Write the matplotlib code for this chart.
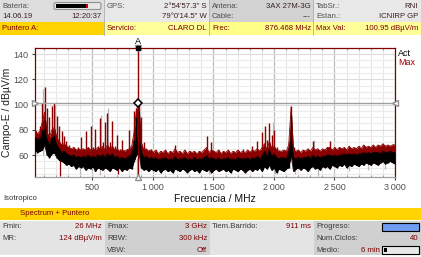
import numpy as np
import matplotlib
matplotlib.use('Agg')
import matplotlib.pyplot as plt
from matplotlib.patches import Rectangle, FancyBboxPatch
from matplotlib.ticker import MultipleLocator

plt.rcParams['font.family'] = ['Liberation Sans', 'DejaVu Sans']

# ---------------- data ----------------
FREQ_START, FREQ_STOP = 26, 3000

# Max hold trace (upper envelope, dBuV/m)
max_trace = [80, 77, 83, 101, 114, 97, 90, 99, 101, 91,
             83, 79, 75, 71, 68, 65, 66, 64, 66, 74,
             65, 79, 66, 83, 66, 81, 67, 89, 70, 86,
             93, 70, 87, 67, 76, 65, 72, 64, 65, 80,
             67, 95, 97, 101, 90, 70, 65, 64, 65, 62,
             64, 61, 63, 62, 64, 61, 63, 62, 68, 62,
             63, 61, 64, 61, 63, 62, 63, 61, 63, 62,
             64, 75, 62, 70, 63, 62, 64, 61, 63, 62,
             64, 61, 63, 62, 64, 62, 65, 62, 64, 63,
             67, 63, 71, 64, 78, 83, 72, 85, 76, 80,
             66, 64, 63, 64, 63, 70, 99, 66, 63, 64,
             62, 64, 63, 65, 63, 71, 64, 65, 63, 65,
             64, 66, 71, 64, 66, 64, 66, 65, 66, 64,
             67, 65, 66, 65, 67, 65, 68, 66, 67, 66,
             68, 66, 68, 67, 69, 67, 68, 67, 69, 68]

# Actual trace: upper and lower edge of the noise band
act_top = [74, 72, 73, 80, 88, 72, 68, 74, 76, 68,
           65, 62, 63, 61, 60, 59, 60, 58, 59, 58,
           59, 58, 60, 58, 59, 58, 60, 59, 61, 58,
           62, 59, 61, 58, 59, 57, 58, 57, 58, 59,
           61, 72, 90, 95, 64, 58, 59, 57, 58, 57,
           58, 56, 57, 57, 58, 56, 57, 56, 59, 56,
           57, 57, 58, 56, 57, 56, 58, 56, 57, 57,
           58, 60, 57, 58, 57, 56, 58, 56, 57, 57,
           58, 56, 57, 56, 58, 57, 57, 57, 58, 56,
           58, 57, 59, 57, 60, 63, 58, 65, 59, 61,
           58, 57, 58, 58, 57, 62, 92, 58, 57, 58,
           57, 58, 58, 59, 57, 60, 58, 59, 58, 59,
           59, 60, 60, 59, 60, 59, 60, 60, 61, 60,
           61, 60, 61, 60, 61, 61, 62, 61, 62, 61,
           62, 62, 62, 61, 63, 62, 62, 63, 62, 62]

act_low = [64, 62, 63, 64, 68, 60, 58, 61, 62, 58,
           56, 55, 54, 52, 53, 51, 52, 49, 51, 50,
           51, 48, 50, 49, 51, 47, 50, 49, 48, 50,
           49, 47, 50, 49, 48, 50, 47, 49, 48, 50,
           49, 55, 60, 62, 50, 48, 49, 47, 49, 48,
           47, 49, 46, 48, 49, 47, 48, 46, 49, 48,
           47, 49, 48, 46, 48, 49, 47, 48, 46, 49,
           48, 47, 49, 46, 48, 49, 47, 48, 49, 47,
           48, 46, 49, 48, 47, 49, 48, 46, 48, 49,
           47, 49, 48, 50, 47, 51, 49, 52, 48, 50,
           46, 49, 48, 47, 49, 50, 60, 47, 49, 50,
           48, 50, 49, 47, 50, 51, 49, 50, 48, 51,
           50, 51, 49, 52, 51, 50, 52, 51, 53, 50,
           52, 51, 53, 52, 51, 53, 52, 54, 53, 52,
           54, 53, 52, 54, 55, 53, 54, 55, 54, 53]

gray_peak_freq = [96, 192, 568, 630, 884, 1500, 1990, 2330, 2465]
gray_peak_level = [112, 100, 92, 97, 98, 75, 86, 72, 71]
gray_dip_freq = [130, 400, 560, 870, 1460, 2010, 2170, 2360, 2620, 2780, 2920]
gray_dip_level = [58, 45, 44, 44, 45, 45, 45, 43, 47, 48, 49]
red_dip_freq = [234, 715]
red_dip_level = [43, 45]

marker_freq = 876.468
marker_level = 100.95

y_ticks = [60, 80, 100, 120, 140]
x_ticks = [500, 1000, 1500, 2000, 2500, 3000]
x_tick_labels = ['500', '1\u2009000', '1\u2009500', '2\u2009000', '2\u2009500', '3\u2009000']

header_rows = [
    [('Bateria:', None), ('GPS:', '2°54\'57.3" S'), ('Antena:', '3AX 27M-3G'), ('TabSr.:', 'RNI')],
    [('14.06.19', '12:20:37'), ('', '79°0\'14.5" W'), ('Cable:', '---'), ('Estan.:', 'ICNIRP GP')],
    [('Puntero A:', None), ('Servicio:', 'CLARO DL'), ('Frec:', '876.468 MHz'), ('Max Val:', '100.95 dBµV/m')],
]
footer_rows = [
    [('Fmin:', '26 MHz'), ('Fmax:', '3 GHz'), ('Tiem.Barrido:', '911 ms'), ('Progreso:', None)],
    [('MR:', '124 dBµV/m'), ('RBW:', '300 kHz'), ('', ''), ('Num.Ciclos:', '40')],
    [('', ''), ('VBW:', 'Off'), ('', ''), ('Medio:', '6 min')],
]

freqs = np.linspace(FREQ_START, FREQ_STOP, len(max_trace))
max_arr = np.array(max_trace, dtype=float)
top_arr = np.array(act_top, dtype=float)
low_arr = np.array(act_low, dtype=float)

# ---------------- figure ----------------
W, H = 421, 257
fig = plt.figure(figsize=(W / 100, H / 100), dpi=100)
fig.patch.set_facecolor('white')

ov = fig.add_axes([0, 0, 1, 1], zorder=0)
ov.set_xlim(0, W)
ov.set_ylim(H, 0)
ov.axis('off')

DARK = '#7a0000'
LBL = '#505050'
FS = 5.6

col_x = [0, 105, 210, 314, 421]
hdr_bg = ['#dedede', '#e8e8e8', '#d2d2d2', '#e8e8e8']
for c in range(4):
    ov.add_patch(Rectangle((col_x[c], 0), col_x[c + 1] - col_x[c], 22, color=hdr_bg[c], lw=0))
row3_bg = ['#ffd400', '#ffff99', '#ffff88', '#ffff99']
for c in range(4):
    ov.add_patch(Rectangle((col_x[c], 22), col_x[c + 1] - col_x[c], 12.5, color=row3_bg[c], lw=0))
for c in range(1, 4):
    ov.plot([col_x[c] - 1, col_x[c] - 1], [0, 34.5], color='#b0b0b0', lw=0.6)

hdr_y = [6, 16.5, 28.5]
for r, row in enumerate(header_rows):
    for c, (lab, val) in enumerate(row):
        colr_l = DARK if r == 2 else LBL
        colr_v = DARK if r == 2 else '#3a2020'
        if lab:
            ov.text(col_x[c] + 2, hdr_y[r], lab, fontsize=FS,
                    color=colr_l if not (r == 1 and c == 0) else '#3a2020',
                    va='center', ha='left')
        if val:
            ov.text(col_x[c + 1] - 3, hdr_y[r], val, fontsize=FS, color=colr_v, va='center', ha='right')

# battery icon
ov.add_patch(FancyBboxPatch((54, 2.5), 47, 7, boxstyle='round,pad=0,rounding_size=2',
                            fc='#e6e6e6', ec='#909090', lw=0.8))
ov.add_patch(Rectangle((56, 4), 30, 4, color='black', lw=0))
ov.add_patch(Rectangle((86, 4), 1.5, 4, color='#cc0000', lw=0))

# footer
ov.text(3, 199, 'Isotropico', fontsize=FS, color='#333333', va='center', ha='left')
ov.add_patch(Rectangle((0, 207.5), W, 12, color='#ffd400', lw=0))
ov.text(20, 213.5, 'Spectrum + Puntero', fontsize=FS, color=DARK, va='center', ha='left')
ftr_bg = ['#e4e4e4', '#d0d0d0', '#e4e4e4', '#d0d0d0']
for c in range(4):
    ov.add_patch(Rectangle((col_x[c], 220.5), col_x[c + 1] - col_x[c], 34.5, color=ftr_bg[c], lw=0))
ftr_y = [226.5, 238.5, 250]
for r, row in enumerate(footer_rows):
    for c, (lab, val) in enumerate(row):
        if lab:
            ov.text(col_x[c] + 2, ftr_y[r], lab, fontsize=FS, color='#3a3a3a', va='center', ha='left')
        if val:
            xr = col_x[c + 1] - 3
            if lab == 'Medio:':
                xr = 380
            ov.text(xr, ftr_y[r], val, fontsize=FS, color=DARK, va='center', ha='right')
ov.add_patch(Rectangle((382, 222.5), 37, 8.5, fc='#6f9cf0', ec='black', lw=0.8))
ov.add_patch(Rectangle((382, 246), 37, 7.5, fc='#e8e8e8', ec='black', lw=0.8))
ov.add_patch(Rectangle((384, 247.5), 3, 4.5, color='black', lw=0))

# ---------------- main plot ----------------
L, R, T, B = 35, 395, 48, 177
ax = fig.add_axes([L / W, 1 - B / H, (R - L) / W, (B - T) / H], zorder=1)
ax.set_facecolor('white')
ax.set_xlim(FREQ_START, FREQ_STOP)
ax.set_ylim(42.6, 144.8)

ax.xaxis.set_minor_locator(MultipleLocator(100))
ax.yaxis.set_minor_locator(MultipleLocator(5))
ax.set_xticks(x_ticks)
ax.set_xticklabels(x_tick_labels)
ax.set_yticks(y_ticks)
ax.grid(which='minor', axis='x', color='#e6e6e6', lw=0.8)
ax.grid(which='major', axis='x', color='#bcbcbc', lw=0.9)
ax.grid(which='minor', axis='y', color='#ececec', lw=0.8)
ax.grid(which='major', axis='y', color='#dcdcdc', lw=0.8)
ax.set_axisbelow(True)

ax.tick_params(axis='both', which='major', labelsize=6.5, labelcolor='#505050', length=2.5,
               color='#404040', pad=2)
ax.tick_params(axis='both', which='minor', length=0)
ax.tick_params(axis='x', which='minor', top=True, direction='in', length=1.5, color='#a08080')
for s in ['top', 'right', 'left']:
    ax.spines[s].set_color('#800000')
    ax.spines[s].set_linewidth(0.9)
ax.spines['bottom'].set_color('#a0a0a0')
ax.spines['bottom'].set_linewidth(0.9)

ax.set_ylabel('Campo-E / dBµV/m', fontsize=7.5, color='#222222', labelpad=1)
ax.set_xlabel('Frecuencia / MHz', fontsize=7.5, color='#111111', labelpad=1)

# traces
RED = '#8b0000'
ax.vlines(gray_peak_freq, 60, gray_peak_level, color='#b8b8b8', lw=0.9, zorder=2)
ax.vlines(gray_dip_freq, 58, gray_dip_level, color='#b8b8b8', lw=0.9, zorder=2)
# max hold: dense band near the floor plus thin spikes
red_band = np.minimum(max_arr, top_arr + 6)
ax.fill_between(freqs, low_arr, red_band, color=RED, lw=0, zorder=3)
ax.plot(freqs, red_band, color=RED, lw=0.6, zorder=3)
ax.vlines(freqs, top_arr, max_arr, color=RED, lw=1.0, zorder=3)
ax.vlines(red_dip_freq, 58, red_dip_level, color=RED, lw=0.9, zorder=3)
# actual trace: dense black band plus thin spikes
black_band = np.minimum(top_arr, low_arr + 12)
ax.fill_between(freqs, low_arr, black_band, color='black', lw=0, zorder=4)
ax.plot(freqs, black_band, color='black', lw=0.6, zorder=4)
ax.plot(freqs, low_arr, color='black', lw=0.6, zorder=4)
ax.vlines(freqs, low_arr, top_arr, color='black', lw=1.0, zorder=4)

# marker
ax.axhline(marker_level, color='#a0a0a0', lw=1.0, zorder=5)
ax.axvline(marker_freq, color=RED, lw=1.0, zorder=5)
ax.plot(marker_freq, marker_level, 'D', mfc='white', mec='black', ms=4.5, mew=1.1, zorder=7)
ax.plot(FREQ_START, marker_level, '>', mfc='white', mec='#909090', ms=5, clip_on=False, zorder=7)
ax.plot(FREQ_STOP, marker_level, '<', mfc='white', mec='#909090', ms=5, clip_on=False, zorder=7)
ax.plot(marker_freq, 144.8, 'v', mfc='white', mec='#909090', ms=5, clip_on=False, zorder=7)
ax.plot(marker_freq, 144.8, 's', color='black', ms=2.5, clip_on=False, zorder=8)
ax.plot(marker_freq, 42.6, '^', mfc='white', mec='#909090', ms=5, clip_on=False, zorder=7)
ax.annotate('A', xy=(marker_freq, 1), xycoords=('data', 'axes fraction'), xytext=(0, 1.5),
            textcoords='offset points', ha='center', va='bottom', fontsize=6.5, color='black')

ax.text(1.008, 0.955, 'Act', transform=ax.transAxes, fontsize=6.5, color='black', va='center', ha='left')
ax.text(1.008, 0.89, 'Max', transform=ax.transAxes, fontsize=6.5, color='#a00000', va='center', ha='left')

fig.savefig('out.png', dpi=100)
